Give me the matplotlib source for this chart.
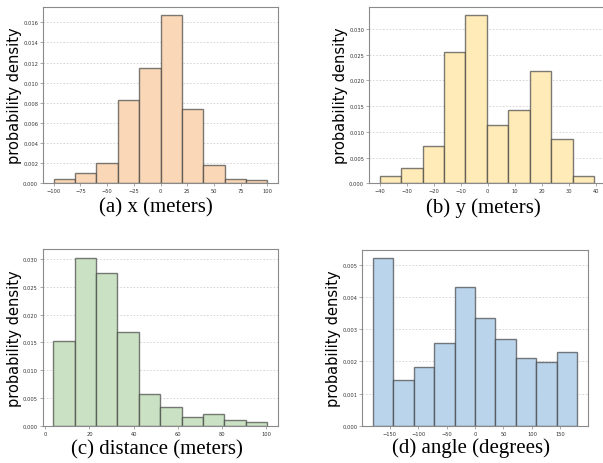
import numpy as np
import matplotlib
matplotlib.use("Agg")
import matplotlib.pyplot as plt

# ---- data ----
x_edges = [-100, -80, -60, -40, -20, 0, 20, 40, 60, 80, 100]
x_density = [0.00043, 0.00099, 0.00202, 0.00828, 0.01149, 0.01669, 0.00742, 0.00179, 0.00046, 0.00036]

y_edges = list(np.linspace(-40.0, 39.4, 11))
y_density = [0.00136, 0.00305, 0.00719, 0.02546, 0.03266, 0.0114, 0.01419, 0.02177, 0.00862, 0.00136]

d_edges = list(np.linspace(3.6, 100.5, 11))
d_density = [0.01518, 0.03024, 0.02742, 0.01692, 0.00564, 0.0033, 0.0015, 0.00204, 0.00096, 0.00072]

a_edges = list(np.linspace(-180, 180, 11))
a_density = [0.005207, 0.001415, 0.001808, 0.002583, 0.004308, 0.003357, 0.002696, 0.002118, 0.001983, 0.002293]

x_ticks = [-100, -75, -50, -25, 0, 25, 50, 75, 100]
y_ticks = [-40, -30, -20, -10, 0, 10, 20, 30, 40]
d_ticks = [0, 20, 40, 60, 80, 100]
a_ticks = [-150, -100, -50, 0, 50, 100, 150]

x_yticks = [0.000, 0.002, 0.004, 0.006, 0.008, 0.010, 0.012, 0.014, 0.016]
y_yticks = [0.000, 0.005, 0.010, 0.015, 0.020, 0.025, 0.030]
d_yticks = [0.000, 0.005, 0.010, 0.015, 0.020, 0.025, 0.030]
a_yticks = [0.000, 0.001, 0.002, 0.003, 0.004, 0.005]

captions = ["(a) x (meters)", "(b) y (meters)", "(c) distance (meters)", "(d) angle (degrees)"]
ylabel = "probability density"

colors = ["#FAD8B7", "#FEEBB8", "#CAE1C3", "#BAD4EC"]

W, H = 603, 464
fig = plt.figure(figsize=(W / 100, H / 100), dpi=100)

# axes boxes in pixels: left, right, top, bottom
boxes = [
    (43, 278, 8, 184.3),
    (369, 604.8, 8, 184.3),
    (42.5, 278, 250.3, 426.7),
    (362.3, 587.7, 250.7, 426.7),
]
cap_pos = [(156, 208), (483, 208), (156.5, 450), (471, 448)]
ylab_pos = [(15, 96), (341, 96), (15, 338.5), (333.5, 338.7)]

panels = [
    (x_edges, x_density, x_ticks, x_yticks, "{:.3f}"),
    (y_edges, y_density, y_ticks, y_yticks, "{:.3f}"),
    (d_edges, d_density, d_ticks, d_yticks, "{:.3f}"),
    (a_edges, a_density, a_ticks, a_yticks, "{:.3f}"),
]

for i, ((edges, dens, xt, yt, fmt), (l, r, t, b)) in enumerate(zip(panels, boxes)):
    ax = fig.add_axes([l / W, 1 - b / H, (r - l) / W, (b - t) / H])
    edges = np.asarray(edges)
    ax.hist(edges[:-1], bins=edges, weights=dens, color=colors[i],
            edgecolor=(0.22, 0.22, 0.22, 0.65), linewidth=1.0)
    ax.set_axisbelow(True)
    ax.yaxis.grid(True, linestyle=(0, (2, 2)), color="#d0d0d0", linewidth=0.6)
    ax.set_xticks(xt)
    ax.set_yticks(yt)
    ax.set_yticklabels([fmt.format(v) for v in yt])
    ax.margins(x=0.05, y=0.05)
    ax.set_ylim(0, max(dens) * 1.05)
    ax.tick_params(labelsize=3.7, length=2, width=0.5, color="#888888",
                   labelcolor="#333333", pad=1.5)
    for s in ax.spines.values():
        s.set_color("#8a8a8a")
        s.set_linewidth(0.8)
    fig.text(ylab_pos[i][0] / W, 1 - ylab_pos[i][1] / H, ylabel, rotation=90,
             ha="center", va="center", fontsize=10.5, family="DejaVu Sans")
    fig.text(cap_pos[i][0] / W, 1 - cap_pos[i][1] / H, captions[i],
             ha="center", va="center", fontsize=15, family="Liberation Serif")

fig.savefig("out.png", dpi=100)
